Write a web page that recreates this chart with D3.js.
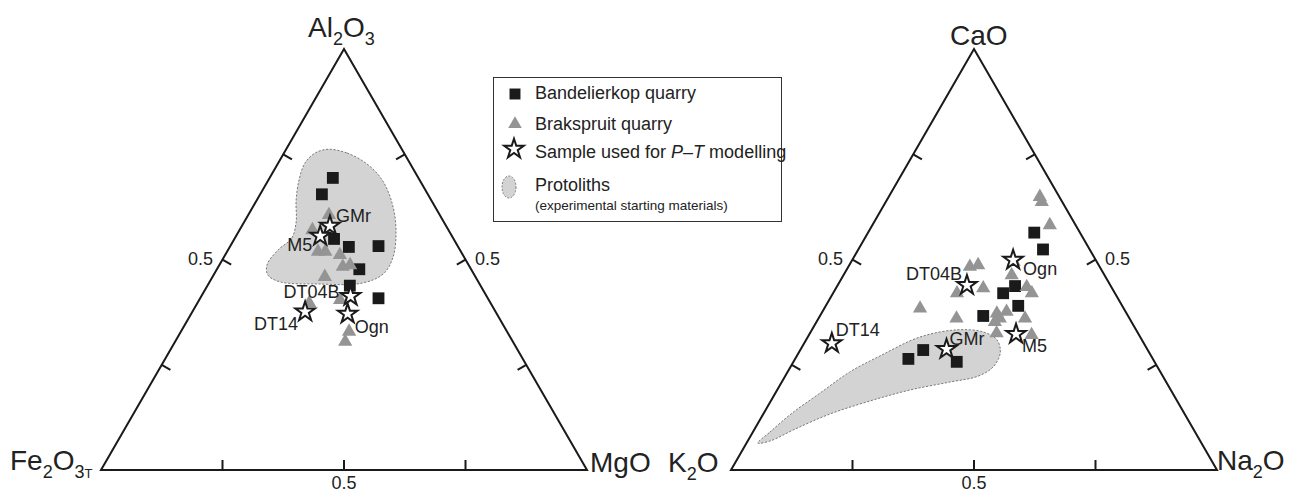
<!DOCTYPE html>
<html>
<head>
<meta charset="utf-8">
<script src="https://cdn.jsdelivr.net/npm/d3@7"></script>
<style>
  body { margin: 0; background: #fff; }
  svg { display: block; font-family: "Liberation Sans", Arial, Helvetica, sans-serif; }
</style>
</head>
<body>
<svg id="chart" width="1296" height="493"></svg>
<script>
// Compositions are [top, left, right] fractions of each ternary

// Al2O3 - Fe2O3T - MgO
const afmBandelierkop = [
  [0.694, 0.176, 0.130], [0.655, 0.218, 0.127], [0.549, 0.246, 0.205],
  [0.530, 0.225, 0.245], [0.532, 0.163, 0.305], [0.477, 0.230, 0.293],
  [0.438, 0.269, 0.293], [0.408, 0.225, 0.367]
];
const afmBrakspruit = [
  [0.606, 0.228, 0.166], [0.570, 0.280, 0.150], [0.519, 0.294, 0.187],
  [0.519, 0.279, 0.202], [0.511, 0.253, 0.236], [0.483, 0.261, 0.256],
  [0.487, 0.244, 0.269], [0.459, 0.310, 0.231], [0.404, 0.306, 0.290],
  [0.397, 0.373, 0.230], [0.329, 0.325, 0.346], [0.305, 0.345, 0.350]
];
const sampleNames = ["GMr", "M5", "DT04B", "DT14", "Ogn"];
const afmSamples = [
  [0.580, 0.239, 0.181], [0.556, 0.271, 0.173], [0.413, 0.280, 0.307],
  [0.376, 0.392, 0.232], [0.371, 0.307, 0.322]
];
const afmProtolith = [
  [0.762, 0.152, 0.086], [0.753, 0.117, 0.130], [0.727, 0.089, 0.184],
  [0.689, 0.077, 0.234], [0.634, 0.084, 0.282], [0.570, 0.108, 0.322],
  [0.506, 0.146, 0.348], [0.466, 0.186, 0.348], [0.444, 0.241, 0.315],
  [0.442, 0.335, 0.223], [0.447, 0.408, 0.145], [0.463, 0.425, 0.112],
  [0.487, 0.415, 0.098], [0.523, 0.374, 0.103], [0.551, 0.332, 0.117],
  [0.589, 0.304, 0.107], [0.641, 0.278, 0.081], [0.689, 0.248, 0.063],
  [0.729, 0.216, 0.055], [0.753, 0.183, 0.064]
];

// CaO - K2O - Na2O
const cnkBandelierkop = [
  [0.564, 0.094, 0.342], [0.524, 0.096, 0.380], [0.437, 0.197, 0.366],
  [0.420, 0.230, 0.350], [0.390, 0.214, 0.396], [0.366, 0.298, 0.336],
  [0.285, 0.462, 0.253], [0.264, 0.503, 0.233], [0.257, 0.407, 0.336]
];
const cnkBrakspruit = [
  [0.649, 0.040, 0.311], [0.637, 0.042, 0.321], [0.582, 0.053, 0.365],
  [0.483, 0.267, 0.250], [0.487, 0.248, 0.265], [0.463, 0.191, 0.346],
  [0.432, 0.265, 0.303], [0.420, 0.325, 0.255], [0.435, 0.174, 0.391],
  [0.420, 0.171, 0.409], [0.384, 0.419, 0.197], [0.360, 0.356, 0.284],
  [0.372, 0.267, 0.361], [0.376, 0.245, 0.379], [0.360, 0.267, 0.373],
  [0.352, 0.281, 0.367], [0.360, 0.215, 0.425], [0.325, 0.291, 0.384],
  [0.321, 0.221, 0.458], [0.495, 0.171, 0.334]
];
const cnkSamples = [
  [0.287, 0.413, 0.300], [0.323, 0.252, 0.425], [0.439, 0.295, 0.266],
  [0.301, 0.642, 0.057], [0.499, 0.170, 0.331]
];
const cnkProtolith = [
  [0.064, 0.913, 0.023], [0.090, 0.875, 0.035], [0.135, 0.807, 0.058],
  [0.183, 0.725, 0.092], [0.233, 0.639, 0.128], [0.271, 0.558, 0.171],
  [0.316, 0.453, 0.231], [0.333, 0.368, 0.299], [0.328, 0.317, 0.355],
  [0.309, 0.298, 0.393], [0.278, 0.307, 0.415], [0.245, 0.338, 0.417],
  [0.223, 0.380, 0.397], [0.209, 0.445, 0.346], [0.190, 0.537, 0.273],
  [0.164, 0.632, 0.204], [0.133, 0.730, 0.137], [0.097, 0.820, 0.083],
  [0.069, 0.885, 0.046]
];

const tickValues = [0.25, 0.5, 0.75];

const svg = d3.select("#chart");
const INK = "#1a1a1a";
const GREY = "#949494";

// label placement next to each star: [dx, dy, anchor]
const afmLabelPos = {
  GMr: [6, -4, "start"], M5: [-8, 15, "end"], DT04B: [-11, 2, "end"],
  DT14: [-7, 18, "end"], Ogn: [7, 19, "start"]
};
const cnkLabelPos = {
  GMr: [3, -4, "start"], M5: [6, 18, "start"], DT04B: [-5, -5, "end"],
  DT14: [4, -7, "start"], Ogn: [10, 15, "start"]
};

function drawTernary(opt) {
  const g = svg.append("g");
  const H = Math.sqrt(3) / 2;
  const x = d3.scaleLinear().domain([0, 1]).range([opt.x0, opt.x1]);
  const y = d3.scaleLinear().domain([0, H]).range([opt.base, opt.base - (opt.x1 - opt.x0) * H]);
  // [top, left, right] -> screen
  const proj = c => {
    const s = c[0] + c[1] + c[2];
    const t = c[0] / s, r = c[2] / s;
    return [x(r + t / 2), y(t * H)];
  };

  // protolith field
  g.append("path")
    .attr("d", d3.line().curve(d3.curveCatmullRomClosed.alpha(0.5))(opt.protolith.map(proj)))
    .attr("fill", "#d3d3d3")
    .attr("stroke", "#7a7a7a")
    .attr("stroke-width", 1)
    .attr("stroke-dasharray", "2.2,1.6");

  // frame
  const T = proj([1, 0, 0]), L = proj([0, 1, 0]), R = proj([0, 0, 1]);
  g.append("path")
    .attr("d", `M${L}L${T}L${R}Z`)
    .attr("fill", "none")
    .attr("stroke", INK)
    .attr("stroke-width", 2)
    .attr("stroke-linejoin", "miter");

  // ticks, perpendicular to each side, pointing inward
  const tl = 10;
  const sides = [
    { pt: v => proj([0, 1 - v, v]), dir: [0, -1], lab: [0, 19] },
    { pt: v => proj([v, 1 - v, 0]), dir: [0.866, 0.5], lab: [-22, 5] },
    { pt: v => proj([v, 0, 1 - v]), dir: [-0.866, 0.5], lab: [22, 5] }
  ];
  sides.forEach(sd => {
    tickValues.forEach(v => {
      const p = sd.pt(v);
      g.append("line")
        .attr("x1", p[0]).attr("y1", p[1])
        .attr("x2", p[0] + sd.dir[0] * tl).attr("y2", p[1] + sd.dir[1] * tl)
        .attr("stroke", INK).attr("stroke-width", 2);
      if (v === 0.5) {
        g.append("text")
          .attr("x", p[0] + sd.lab[0]).attr("y", p[1] + sd.lab[1])
          .attr("text-anchor", "middle")
          .attr("font-size", 18).attr("fill", "#222")
          .text("0.5");
      }
    });
  });

  const sq = d3.symbol().type(d3.symbolSquare).size(140);
  const tri = d3.symbol().type(d3.symbolTriangle).size(88);
  const star = d3.symbol().type(d3.symbolStar).size(118);

  g.append("g").selectAll("path").data(opt.squares).join("path")
    .attr("transform", d => `translate(${proj(d)})`)
    .attr("d", sq).attr("fill", INK);

  g.append("g").selectAll("path").data(opt.triangles).join("path")
    .attr("transform", d => `translate(${proj(d)})`)
    .attr("d", tri).attr("fill", GREY);

  const s = g.append("g").selectAll("g").data(opt.samples).join("g")
    .attr("transform", d => `translate(${proj(d)})`);
  s.append("path").attr("d", star)
    .attr("fill", "#fff").attr("stroke", INK).attr("stroke-width", 2)
    .attr("stroke-linejoin", "miter");
  s.append("text")
    .attr("x", (d, i) => opt.labelPos[sampleNames[i]][0])
    .attr("y", (d, i) => opt.labelPos[sampleNames[i]][1])
    .attr("text-anchor", (d, i) => opt.labelPos[sampleNames[i]][2])
    .attr("font-size", 18).attr("fill", "#222")
    .text((d, i) => sampleNames[i]);

  return g;
}

drawTernary({
  x0: 101, x1: 587, base: 470,
  squares: afmBandelierkop, triangles: afmBrakspruit,
  samples: afmSamples, protolith: afmProtolith, labelPos: afmLabelPos
});
drawTernary({
  x0: 731, x1: 1217, base: 470,
  squares: cnkBandelierkop, triangles: cnkBrakspruit,
  samples: cnkSamples, protolith: cnkProtolith, labelPos: cnkLabelPos
});

// apex labels with subscripts
function formula(xp, yp, parts) {
  const t = svg.append("text").attr("x", xp).attr("y", yp)
    .attr("fill", "#222").attr("font-size", 28);
  let sub = false;
  parts.forEach(p => {
    const isSub = typeof p === "object";
    const ts = t.append("tspan").text(isSub ? p.s : p);
    if (isSub) ts.attr("font-size", p.f || 18);
    if (isSub && !sub) ts.attr("dy", 8);
    if (!isSub && sub) ts.attr("dy", -8);
    sub = isSub;
  });
}
formula(308, 37, ["Al", { s: "2" }, "O", { s: "3" }]);
formula(950, 45, ["CaO"]);
formula(10, 470, ["Fe", { s: "2" }, "O", { s: "3" }, { s: "T", f: 13 }]);
formula(590, 472, ["MgO"]);
formula(668, 472, ["K", { s: "2" }, "O"]);
formula(1217, 470, ["Na", { s: "2" }, "O"]);

// legend
const lg = svg.append("g");
lg.append("rect").attr("x", 493.5).attr("y", 77.5).attr("width", 288).attr("height", 144)
  .attr("fill", "#fff").attr("stroke", "#333").attr("stroke-width", 1);
lg.append("path").attr("transform", "translate(515,94)")
  .attr("d", d3.symbol().type(d3.symbolSquare).size(120)()).attr("fill", INK);
lg.append("path").attr("transform", "translate(515,124)")
  .attr("d", d3.symbol().type(d3.symbolTriangle).size(80)()).attr("fill", GREY);
lg.append("path").attr("transform", "translate(514,149)")
  .attr("d", d3.symbol().type(d3.symbolStar).size(118)())
  .attr("fill", "#fff").attr("stroke", INK).attr("stroke-width", 2);
lg.append("ellipse").attr("cx", 509).attr("cy", 187).attr("rx", 7).attr("ry", 11)
  .attr("fill", "#d3d3d3").attr("stroke", "#7a7a7a").attr("stroke-width", 1)
  .attr("stroke-dasharray", "2,1.5");
const lt = (yy, txt) => lg.append("text").attr("x", 535).attr("y", yy)
  .attr("font-size", 18).attr("fill", "#222").text(txt);
lt(99, "Bandelierkop quarry");
lt(130, "Brakspruit quarry");
const s3 = lg.append("text").attr("x", 535).attr("y", 158).attr("font-size", 18).attr("fill", "#222");
s3.append("tspan").text("Sample used for ");
s3.append("tspan").attr("font-style", "italic").text("P");
s3.append("tspan").text("–");
s3.append("tspan").attr("font-style", "italic").text("T");
s3.append("tspan").text(" modelling");
lt(191, "Protoliths");
lg.append("text").attr("x", 535).attr("y", 210).attr("font-size", 13.5).attr("fill", "#222")
  .text("(experimental starting materials)");
</script>
</body>
</html>
